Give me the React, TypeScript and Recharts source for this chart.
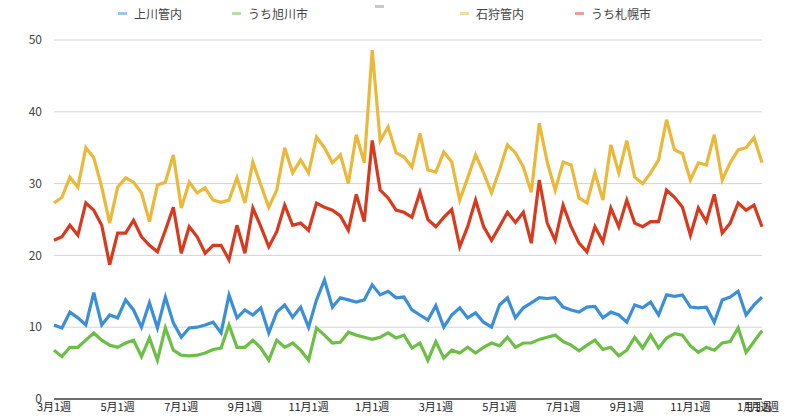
import { LineChart, Line, XAxis, YAxis, CartesianGrid } from "recharts";

// 週ラベル (各月 1週〜4週)
const monthSeq = [3, 4, 5, 6, 7, 8, 9, 10, 11, 12, 1, 2, 3, 4, 5, 6, 7, 8, 9, 10, 11, 12, 1];
const weekNames = ["1週", "2週", "3週", "4週"];
const categories = monthSeq.flatMap((m) => weekNames.map((w) => `${m}月${w}`)).slice(0, 90);
const tickIdx = [0, 8, 16, 24, 32, 40, 48, 56, 64, 72, 80, 88, 89];
const yTicks = [0, 10, 20, 30, 40, 50];

const kamikawa = [
  10.3, 9.9, 12.1, 11.3, 10.3, 14.8, 10.3, 11.7, 11.3, 13.8,
  12.4, 10, 13.4, 9.9, 14.2, 10.6, 8.6, 9.9, 10, 10.3,
  10.7, 9.2, 14.5, 11.3, 12.4, 11.7, 12.7, 9.2, 12.1, 13.1,
  11.4, 12.8, 10, 13.8, 16.6, 12.8, 14.1, 13.8, 13.5, 13.8,
  15.9, 14.5, 15, 14.1, 14.2, 12.4, 11.7, 11, 13, 10,
  11.7, 12.7, 11.3, 12, 10.7, 10, 13.1, 14.1, 11.3, 12.7,
  13.4, 14.1, 14, 14.1, 12.8, 12.4, 12.1, 12.8, 12.9, 11.3,
  12.1, 11.7, 10.7, 13.1, 12.7, 13.5, 11.7, 14.5, 14.3, 14.5,
  12.8, 12.7, 12.8, 10.7, 13.8, 14.2, 15, 11.7, 13.1, 14.2,
];

const asahikawa = [
  6.8, 5.9, 7.2, 7.2, 8.2, 9.2, 8.2, 7.5, 7.2, 7.8,
  8.2, 5.9, 8.5, 5.4, 9.9, 6.8, 6.1, 6, 6.1, 6.4,
  6.9, 7.1, 10.3, 7.2, 7.2, 8.2, 7.1, 5.4, 8.2, 7.2,
  7.8, 6.8, 5.4, 9.9, 8.9, 7.8, 7.9, 9.3, 8.9, 8.6,
  8.3, 8.6, 9.2, 8.5, 8.9, 7.1, 7.8, 5.4, 8, 5.7,
  6.8, 6.4, 7.2, 6.4, 7.2, 7.8, 7.4, 8.6, 7.2, 7.8,
  7.8, 8.3, 8.6, 8.9, 8, 7.5, 6.7, 7.5, 8.2, 6.9,
  7.2, 6, 6.8, 8.6, 7.1, 8.9, 7.1, 8.5, 9.1, 8.9,
  7.4, 6.5, 7.2, 6.8, 7.8, 8, 9.9, 6.5, 8, 9.5,
];

const ishikari = [
  27.3, 28.1, 30.9, 29.5, 35, 33.6, 29.5, 24.5, 29.5, 30.8,
  30.2, 28.7, 24.7, 29.8, 30.2, 34, 26.6, 30.2, 28.7, 29.4,
  27.7, 27.4, 27.7, 30.8, 27.3, 33, 29.8, 26.7, 29.1, 35,
  31.5, 33.3, 31.5, 36.5, 35, 32.9, 34, 30, 36.8, 32.9,
  48.6, 36, 37.9, 34.3, 33.7, 32.3, 37, 31.9, 31.6, 34.4,
  33, 27.7, 30.8, 34, 31.5, 28.7, 31.9, 35.4, 34.3, 32.3,
  28.8, 38.4, 33, 29.1, 33, 32.6, 28, 27.3, 31.5, 27.7,
  35.4, 31.5, 36, 30.9, 30, 31.5, 33.3, 38.9, 34.7, 34.2,
  30.5, 32.9, 32.6, 36.8, 30.5, 32.9, 34.7, 35, 36.4, 32.9,
];

const sapporo = [
  22.1, 22.6, 24.2, 22.8, 27.3, 26.3, 24.2, 18.7, 23.1, 23.1,
  24.9, 22.6, 21.4, 20.5, 23.5, 26.7, 20.3, 24, 22.6, 20.3,
  21.4, 21.4, 19.4, 24.2, 20.3, 26.6, 24, 21.2, 23.3, 27,
  24.2, 24.5, 23.5, 27.3, 26.7, 26.3, 25.5, 23.5, 28.5, 24.7,
  36, 29.1, 28, 26.3, 26, 25.3, 28.8, 25, 24, 25.3,
  26.4, 21.2, 24, 27.7, 24, 22.1, 24, 26, 24.6, 26,
  21.7, 30.5, 24.5, 22.1, 27, 24, 21.7, 20.5, 24, 21.9,
  26.6, 24, 27.7, 24.5, 24, 24.7, 24.7, 29.1, 28.1, 26.7,
  22.8, 26.6, 24.7, 28.5, 23.1, 24.5, 27.3, 26.3, 27, 24,
];

const series = [
  { key: "kamikawa", name: "上川管内", color: "#3b8fd9", legend: "#9cc6ec", left: 118 },
  { key: "asahikawa", name: "うち旭川市", color: "#6cbf45", legend: "#b4dfa0", left: 232 },
  { key: "blank", name: "", color: "#999999", legend: "#c8c8c8", left: 375 },
  { key: "ishikari", name: "石狩管内", color: "#ebb83a", legend: "#f4dc9e", left: 460 },
  { key: "sapporo", name: "うち札幌市", color: "#d9391c", legend: "#eca090", left: 575 },
];

const data = categories.map((label, i) => ({
  i,
  label,
  kamikawa: kamikawa[i],
  asahikawa: asahikawa[i],
  ishikari: ishikari[i],
  sapporo: sapporo[i],
}));

const font = "'Noto Sans CJK JP', 'Noto Sans', sans-serif";

function LegendRow() {
  return (
    <div style={{ position: "absolute", left: 0, top: 0, width: 800, height: 28, fontFamily: font, fontSize: 12, color: "#444" }}>
      {series.map((s) => (
        <div key={s.key} style={{ position: "absolute", left: s.left, top: 5, display: "flex", alignItems: "center" }}>
          <div style={{ width: 9, height: 3, background: s.legend, marginRight: 7 }} />
          {s.name}
        </div>
      ))}
    </div>
  );
}

export default function App() {
  return (
    <div style={{ position: "absolute", left: 0, top: 0, width: 800, height: 419, background: "#fff" }}>
      <LineChart width={800} height={419} data={data} margin={{ top: 40, right: 38, bottom: 0, left: 0 }}>
        <CartesianGrid horizontal vertical={false} stroke="#d4d4d4" />
        <XAxis
          type="number"
          dataKey="i"
          domain={[0, 89]}
          ticks={tickIdx}
          interval={0}
          tickFormatter={(v: number) => categories[v]}
          tickLine={false}
          tickSize={0}
          tickMargin={4}
          height={20}
          axisLine={{ stroke: "#444", strokeWidth: 1.5 }}
          tick={{ fontSize: 11, fill: "#222", fontFamily: font }}
        />
        <YAxis
          domain={[0, 50]}
          ticks={yTicks}
          width={54}
          axisLine={false}
          tickLine={false}
          tickSize={0}
          tickMargin={12}
          tick={{ fontSize: 12, fill: "#444", fontFamily: font }}
        />
        {series
          .filter((s) => s.key !== "blank")
          .map((s) => (
            <Line
              key={s.key}
              dataKey={s.key}
              name={s.name}
              type="linear"
              stroke={s.color}
              strokeWidth={3.2}
              dot={false}
              isAnimationActive={false}
            />
          ))}
      </LineChart>
      <LegendRow />
    </div>
  );
}
